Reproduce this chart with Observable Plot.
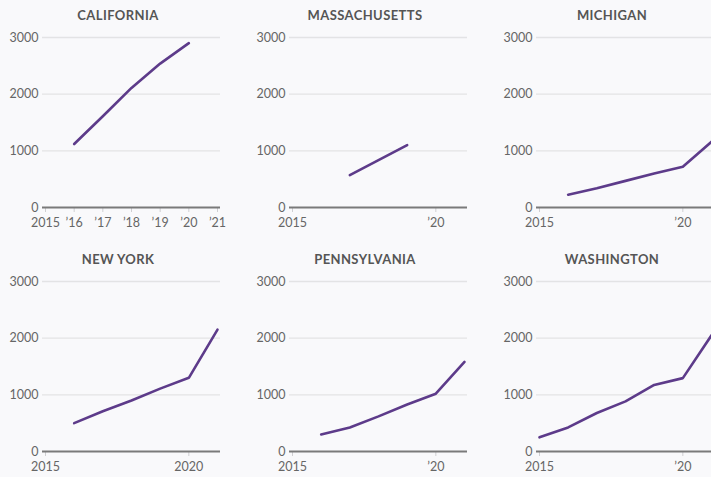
<!DOCTYPE html>
<html>
<head>
<meta charset="utf-8">
<script src="https://cdn.jsdelivr.net/npm/d3@7"></script>
<script src="https://cdn.jsdelivr.net/npm/@observablehq/plot@0.6"></script>
<style>
  html, body { margin: 0; padding: 0; background: #f9f9fb; }
  #clip { width: 711px; height: 477px; overflow: hidden; position: relative; }
  #grid { display: grid; grid-template-columns: 247px 247px 247px; grid-auto-rows: 244px; width: 741px; }
  .panel { width: 247px; height: 244px; }
  .title { box-sizing: border-box; height: 24px; padding: 7px 23px 0 12px; line-height: 17px;
           text-align: center; font: 700 13px Lato, sans-serif; color: #555; letter-spacing: 0.4px; }
  svg { display: block; }
</style>
</head>
<body>
<div id="clip"><div id="grid"></div></div>
<script>
const years = [2015, 2016, 2017, 2018, 2019, 2020, 2021];
const states = ["CALIFORNIA", "MASSACHUSETTS", "MICHIGAN", "NEW YORK", "PENNSYLVANIA", "WASHINGTON"];
const california    = [null, 1120, 1610, 2110, 2540, 2900, null];
const massachusetts = [null, null, 570, 835, 1100, null, null];
const michigan      = [null, 225, 340, 470, 600, 720, 1160];
const newYork       = [null, 500, 710, 900, 1110, 1300, 2150];
const pennsylvania  = [null, 300, 425, 620, 830, 1020, 1580];
const washington    = [250, 425, 680, 885, 1175, 1295, 2050];
const yTicks = [0, 1000, 2000, 3000];
const allYearTicks = [2015, 2016, 2017, 2018, 2019, 2020, 2021];
const fiveYearTicks = [2015, 2020];

const shortFmt = d => d === 2015 ? "2015" : "\u2019" + String(d).slice(2);
const fullFmt = d => String(d);

const panels = [
  [states[0], california, allYearTicks, shortFmt],
  [states[1], massachusetts, fiveYearTicks, shortFmt],
  [states[2], michigan, fiveYearTicks, shortFmt],
  [states[3], newYork, fiveYearTicks, fullFmt],
  [states[4], pennsylvania, fiveYearTicks, shortFmt],
  [states[5], washington, fiveYearTicks, shortFmt]
];

const grid = document.getElementById("grid");
for (const [title, values, ticks, fmt] of panels) {
  const data = years.map((year, i) => ({year, value: values[i]})).filter(d => d.value != null);
  const div = document.createElement("div");
  div.className = "panel";
  const t = document.createElement("div");
  t.className = "title";
  t.textContent = title;
  div.appendChild(t);
  const chart = Plot.plot({
    width: 247, height: 220,
    marginLeft: 42, marginRight: 27, marginTop: 13, marginBottom: 37,
    style: {background: "transparent", fontFamily: "Lato, sans-serif", fontSize: "12.5px", color: "#666", overflow: "visible"},
    x: {domain: [2015, 2021], inset: 3, label: null},
    y: {domain: [0, 3000], label: null},
    marks: [
      Plot.gridY([1000, 2000, 3000], {stroke: "#e3e3e5", strokeOpacity: 1, strokeWidth: 1.3}),
      Plot.axisY(yTicks, {tickSize: 0, tickPadding: 4, tickFormat: d => String(d), fill: "#666", label: null}),
      Plot.axisX(ticks, {tickSize: 5, tickPadding: 6, tickFormat: fmt, stroke: "#cfcfd2", fill: "#666", label: null}),
      Plot.ruleY([0], {stroke: "#7a7a7a", strokeWidth: 2}),
      Plot.line(data, {x: "year", y: "value", stroke: "#5d3b8a", strokeWidth: 2.6})
    ]
  });
  div.appendChild(chart);
  grid.appendChild(div);
}
</script>
</body>
</html>
